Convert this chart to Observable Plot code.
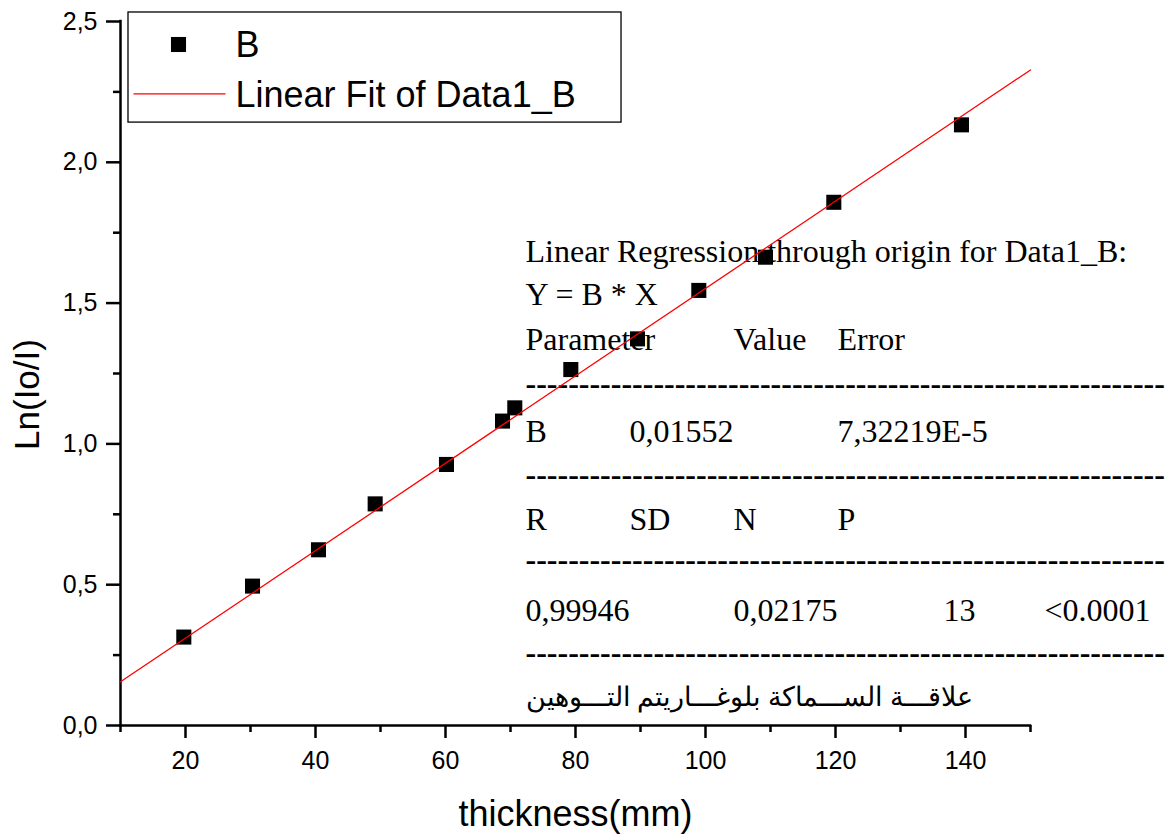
<!DOCTYPE html>
<html><head><meta charset="utf-8">
<script src="https://cdn.jsdelivr.net/npm/d3@7"></script>
<script src="https://cdn.jsdelivr.net/npm/@observablehq/plot@0.6"></script>
<style>body{margin:0;background:#fff}</style>
</head><body><div id="chart"></div>
<script>
// ---- data ----
const thickness = [19.74, 30.31, 40.46, 49.18, 60.15, 68.77, 70.66, 79.28, 89.54, 98.97, 109.23, 119.74, 139.38];
const lnRatio   = [0.314, 0.495, 0.624, 0.787, 0.927, 1.081, 1.128, 1.264, 1.373, 1.545, 1.663, 1.858, 2.133];
const slopeB = 0.01552;           // fit through origin
const fitRange = [10, 150];
const xMajor = [20, 40, 60, 80, 100, 120, 140];
const xMinor = [10, 30, 50, 70, 90, 110, 130, 150];
const yMajor = [0, 0.5, 1, 1.5, 2, 2.5];
const yMinor = [0.25, 0.75, 1.25, 1.75, 2.25];
const yTickLabels = ["0,0", "0,5", "1,0", "1,5", "2,0", "2,5"];
const legendLabels = ["B", "Linear Fit of Data1_B"];
const xLabel = "thickness(mm)";
const yLabel = "Ln(Io/I)";
const statsLines = ["Linear Regression through origin for Data1_B:", "Y = B * X"];
const statsHeader = ["Parameter", "", "Value", "Error", "", ""];
const statsParam  = ["B", "0,01552", "", "7,32219E-5", "", ""];
const statsHead2  = ["R", "SD", "N", "P", "", ""];
const statsVals   = ["0,99946", "", "0,02175", "", "13", "<0.0001"];
const arabicNote = "علاقـــة الســـماكة بلوغـــاريتم التـــوهين";
const dashLine = "-".repeat(60);

// ---- layout (pixels, relative to frame top-left) ----
const FL = 120, FT = 21;
const colX = [525, 629, 733, 837, 943, 1044].map(v => v - FL);
const serif = "Liberation Serif, Times New Roman, serif";
const sans = "Liberation Sans, Arial, sans-serif";

const points = thickness.map((x, i) => ({x, y: lnRatio[i]}));
const fit = fitRange.map(x => ({x, y: slopeB * x}));

function label(str, px, baseline, opts = {}) {
  return Plot.text([str], {text: d => d, frameAnchor: "top-left", dx: px, dy: baseline - FT,
    lineAnchor: "bottom", textAnchor: "start", fill: "black", fontFamily: serif, fontSize: 32, ...opts});
}
function row(cells, baseline) {
  return cells.map((c, i) => c ? label(c, colX[i], baseline) : null).filter(Boolean);
}
const dashOpts = {fontWeight: "bold"};

const chart = Plot.plot({
  width: 1165, height: 834,
  marginLeft: 120, marginRight: 135, marginTop: 21, marginBottom: 109,
  x: {domain: [10, 150]},
  y: {domain: [0, 2.5]},
  style: {fontFamily: sans, background: "white", color: "black"},
  marks: [
    // stats annotation
    label(statsLines[0], colX[0], 261),
    label(statsLines[1], colX[0], 304),
    ...row(statsHeader, 349),
    label(dashLine, colX[0], 393, dashOpts),
    ...row(statsParam, 441),
    label(dashLine, colX[0], 484, dashOpts),
    ...row(statsHead2, 529),
    label(dashLine, colX[0], 569, dashOpts),
    ...row(statsVals, 620),
    label(dashLine, colX[0], 662, dashOpts),
    label(arabicNote, colX[0], 705, {fontSize: 27}),
    // axes
    Plot.axisX({ticks: xMajor, tickSize: 13, tickPadding: 13, fontSize: 25, strokeWidth: 2.5, label: null, fontFamily: sans}),
    Plot.axisX({ticks: xMinor, tickSize: 7, text: null, strokeWidth: 2.5, label: null}),
    Plot.axisY({ticks: yMajor, tickSize: 14, tickPadding: 9, fontSize: 25, strokeWidth: 2.5, label: null,
      tickFormat: d => yTickLabels[yMajor.indexOf(d)], fontFamily: sans}),
    Plot.axisY({ticks: yMinor, tickSize: 7, text: null, strokeWidth: 2.5, label: null}),
    Plot.ruleY([0], {x1: 10, x2: 150, strokeWidth: 2.5, strokeLinecap: "square"}),
    Plot.ruleX([10], {y1: 0, y2: 2.5, strokeWidth: 2.5, strokeLinecap: "square"}),
    Plot.text([xLabel], {text: d => d, frameAnchor: "bottom", textAnchor: "middle", dy: 100, lineAnchor: "bottom", fontSize: 36, fill: "black", fontFamily: sans}),
    Plot.text([yLabel], {text: d => d, frameAnchor: "left", textAnchor: "middle", rotate: -90, dx: -82, dy: 21, lineAnchor: "bottom", fontSize: 35, fill: "black", fontFamily: sans}),
    // data
    Plot.dot(points, {x: "x", y: "y", symbol: "square", r: 8.5, fill: "black", stroke: "none"}),
    Plot.line(fit, {x: "x", y: "y", stroke: "red", strokeWidth: 1.3}),
    // legend
    Plot.rect([0], {x1: 11.23, x2: 87.08, y1: 2.141, y2: 2.532, fill: "none", stroke: "black", strokeWidth: 1.3}),
    Plot.dot([0], {frameAnchor: "top-left", dx: 58, dy: 23, symbol: "square", r: 8.5, fill: "black", stroke: "none"}),
    Plot.link([0], {x1: 12.0, x2: 26.15, y1: 2.243, y2: 2.243, stroke: "red", strokeWidth: 1.3}),
    label(legendLabels[0], 115, 56, {fontFamily: sans, fontSize: 36}),
    label(legendLabels[1], 115, 106, {fontFamily: sans, fontSize: 36})
  ]
});
document.getElementById("chart").appendChild(chart);
</script>
</body></html>
